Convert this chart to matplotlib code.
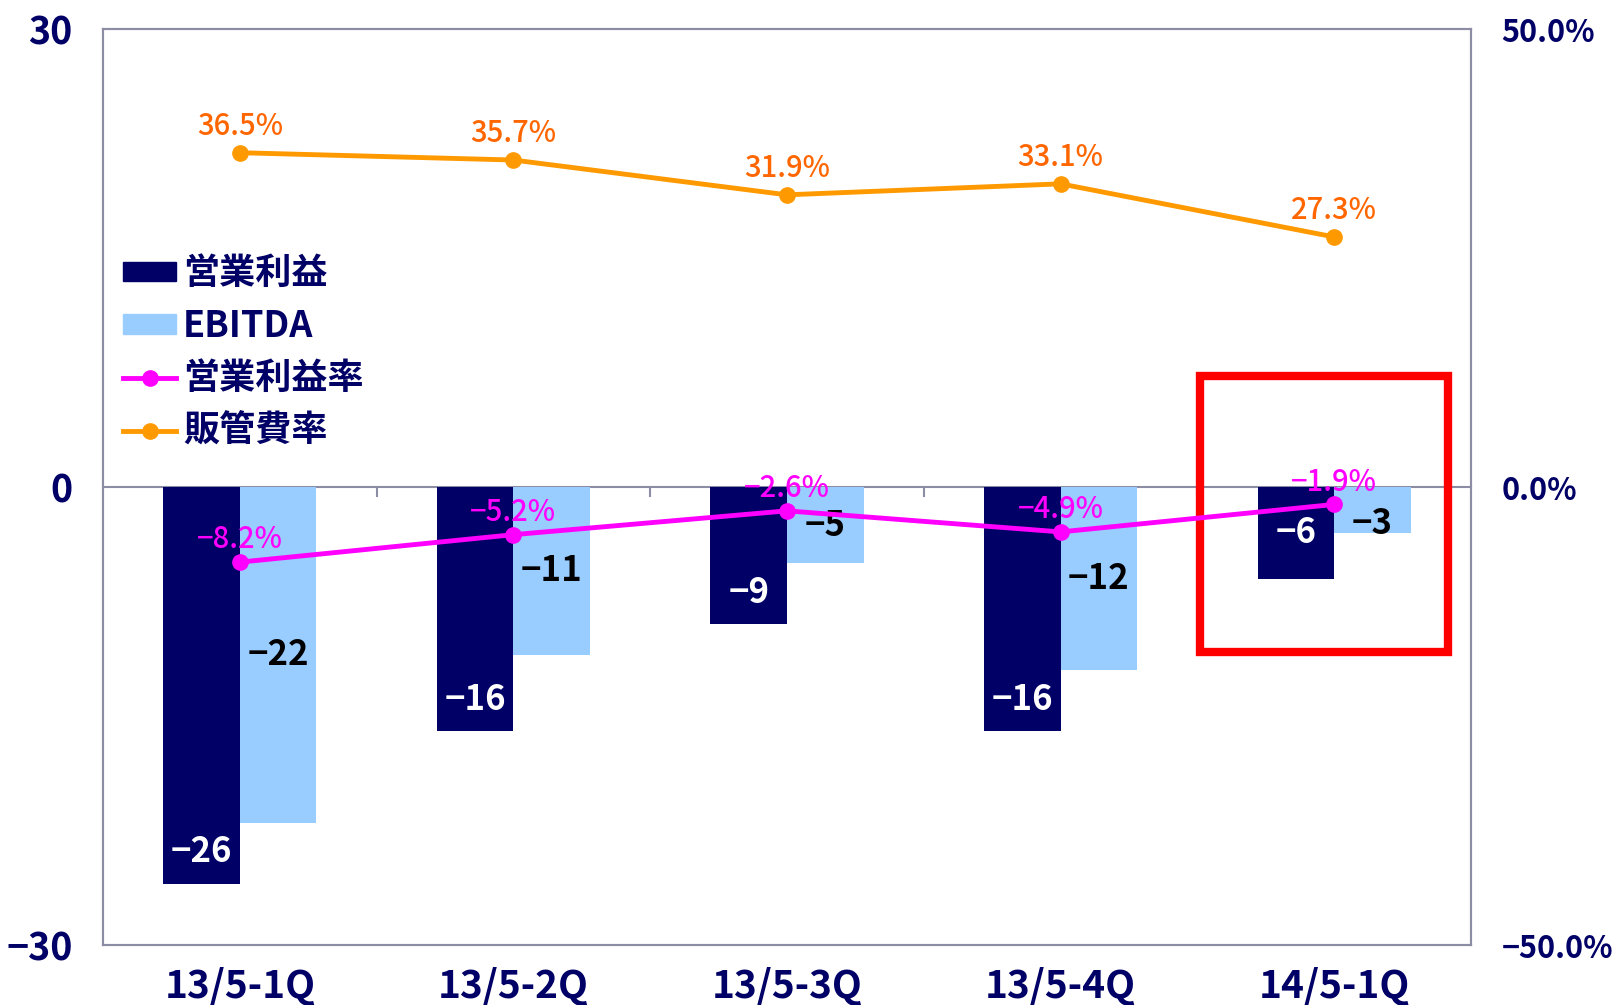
import numpy as np
import matplotlib
matplotlib.use('Agg')
import matplotlib.pyplot as plt
import matplotlib.patches as mpatches
from matplotlib.lines import Line2D

plt.rcParams['font.family'] = ['Noto Sans CJK JP', 'DejaVu Sans']

# --- data ---
categories = ['13/5-1Q', '13/5-2Q', '13/5-3Q', '13/5-4Q', '14/5-1Q']
op_profit = [-26, -16, -9, -16, -6]
ebitda = [-22, -11, -5, -12, -3]
op_margin = [-8.2, -5.2, -2.6, -4.9, -1.9]
sga_ratio = [36.5, 35.7, 31.9, 33.1, 27.3]

NAVY = '#000066'
LIGHT = '#99CCFF'
PINK = '#FF00FF'
ORANGE = '#FF9900'
ORANGE_TXT = '#FF6600'
FRAME = '#8C8CA4'

fig = plt.figure(figsize=(16.19, 10.05), dpi=100)
ax = fig.add_axes([0.0636, 0.0597, 0.845, 0.9114])
ax2 = ax.twinx()

x = np.arange(len(categories))
w = 0.28

ax.bar(x - w / 2, op_profit, w, color=NAVY, zorder=2)
ax.bar(x + w / 2, ebitda, w, color=LIGHT, zorder=2)

for xi, v in zip(x, op_profit):
    ly = v + 2.1 if v < -8 else v / 2
    ax.text(xi - w / 2, ly, f'\u2212{abs(v)}', color='white', fontsize=25,
            fontweight='bold', ha='center', va='center', zorder=3)
for xi, v in zip(x, ebitda):
    ly = min(v / 2, -2.4)
    ax.text(xi + w / 2, ly, f'\u2212{abs(v)}', color='black', fontsize=25,
            fontweight='bold', ha='center', va='center', zorder=3)

ax.set_xlim(-0.5, len(categories) - 0.5)
ax.set_ylim(-30, 30)
ax.set_yticks([-30, 0, 30])
ax.set_yticklabels(['\u221230', '0', '30'])
ax.set_xticks(x)
ax.set_xticklabels(categories)
ax.tick_params(axis='x', length=0, pad=16, labelsize=28, labelcolor=NAVY)
ax.tick_params(axis='y', length=0, pad=22, labelsize=27, labelcolor=NAVY)
for lab in ax.get_xticklabels() + ax.get_yticklabels():
    lab.set_fontweight('bold')

# zero line with ticks at category boundaries
sec = ax.secondary_xaxis(0.5)
sec.set_alignment('bottom')
sec.set_xticks(np.arange(len(categories) - 1) + 0.5)
sec.tick_params(axis='x', direction='out', length=7, width=1.5, color=FRAME,
                labelbottom=False, labeltop=False)
sec.spines['bottom'].set_color(FRAME)
sec.spines['bottom'].set_linewidth(1.5)

# lines on right axis
ax2.plot(x, op_margin, color=PINK, lw=3.5, marker='o', ms=11, zorder=4)
ax2.plot(x, sga_ratio, color=ORANGE, lw=3.5, marker='o', ms=11, zorder=4)
for xi, v in zip(x, op_margin):
    ax2.annotate(f'\u2212{abs(v):.1f}%', (xi, v), xytext=(0, 16),
                 textcoords='offset points', ha='center', va='center',
                 color=PINK, fontsize=21, fontweight='medium')
for xi, v in zip(x, sga_ratio):
    ax2.annotate(f'{v:.1f}%', (xi, v), xytext=(0, 19),
                 textcoords='offset points', ha='center', va='center',
                 color=ORANGE_TXT, fontsize=21, fontweight='medium')

ax2.set_ylim(-50, 50)
ax2.set_yticks([-50, 0, 50])
ax2.set_yticklabels(['\u221250.0%', '0.0%', '50.0%'])
ax2.tick_params(axis='y', length=0, pad=22, labelsize=22, labelcolor=NAVY)
for lab in ax2.get_yticklabels():
    lab.set_fontweight('bold')

for a in (ax, ax2):
    for s in a.spines.values():
        s.set_color(FRAME)
        s.set_linewidth(1.5)

# highlight box around latest quarter
rect = mpatches.Rectangle((3.51, -10.8), 0.905, 18.1, fill=False,
                          edgecolor='#FF0000', lw=6, zorder=5, clip_on=False)
ax.add_patch(rect)

handles = [
    mpatches.Patch(color=NAVY, label='営業利益'),
    mpatches.Patch(color=LIGHT, label='EBITDA'),
    Line2D([], [], color=PINK, lw=3.5, marker='o', ms=11, label='営業利益率'),
    Line2D([], [], color=ORANGE, lw=3.5, marker='o', ms=11, label='販管費率'),
]
leg = ax2.legend(handles=handles, loc='upper left', bbox_to_anchor=(0.015, 0.753),
                 frameon=False, fontsize=26, handlelength=1.45, handleheight=0.45,
                 handletextpad=0.2, labelspacing=0.43, borderaxespad=0,
                 borderpad=0)
for t in leg.get_texts():
    t.set_color(NAVY)
    t.set_fontweight('bold')

fig.savefig('out.png', dpi=100)
